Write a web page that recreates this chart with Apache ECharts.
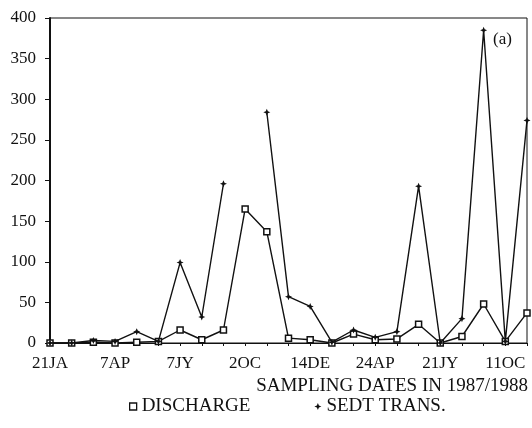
<!DOCTYPE html>
<html>
<head>
<meta charset="utf-8">
<script src="https://cdn.jsdelivr.net/npm/echarts@6/dist/echarts.min.js"></script>
<style>
  html, body { margin: 0; padding: 0; background: #fff; }
  #chart { width: 532px; height: 428px; }
</style>
</head>
<body>
<div id="chart"></div>
<script>
// sampling dates; only every third one is labelled on the axis
const categories = [
  '21JA', 'd1', 'd2', '7AP', 'd4', 'd5', '7JY', 'd7', 'd8', '2OC', 'd10', 'd11',
  '14DE', 'd13', 'd14', '24AP', 'd16', 'd17', '21JY', 'd19', 'd20', '11OC', 'd22'
];
const discharge = [0, 0, 1, 0, 1, 2, 16, 4, 16, 165, 137, 6, 4, 0, 11, 4, 5, 23, 0, 8, 48, 2, 37];
// null = no sample (line breaks there)
const sedtTrans = [0, 0, 3, 2, 14, 2, 99, 32, 196, null, 284, 57, 45, 1, 16, 7, 14, 193, 0, 30, 385, 2, 274];
const yTicks = { min: 0, max: 400, step: 50 };

const serif = '"Liberation Serif", "DejaVu Serif", serif';
const ink = '#111';
const star = 'path://M0,-10 L3,-3 L10,0 L3,3 L0,10 L-3,3 L-10,0 L-3,-3 Z';

const chart = echarts.init(document.getElementById('chart'));

chart.setOption({
  animation: false,
  backgroundColor: '#fff',
  textStyle: { fontFamily: serif, color: ink },
  grid: {
    left: 50, right: 5, top: 18, bottom: 85,
    show: true, borderColor: ink, borderWidth: 1
  },
  legend: {
    left: 124, top: 392,
    itemGap: 64, itemWidth: 7, itemHeight: 7,
    textStyle: { fontFamily: serif, fontSize: 19, color: ink },
    data: [
      { name: 'DISCHARGE', icon: 'rect', itemStyle: { color: '#fff', borderColor: ink, borderWidth: 1.3 } },
      { name: 'SEDT TRANS.', icon: star, itemStyle: { color: ink, borderWidth: 0 } }
    ]
  },
  xAxis: {
    type: 'category',
    data: categories,
    boundaryGap: false,
    axisLine: { lineStyle: { color: ink, width: 1.2 } },
    axisTick: { interval: 0, length: 3, lineStyle: { color: ink } },
    axisLabel: { interval: 2, fontFamily: serif, fontSize: 17, color: ink, margin: 12 },
    splitLine: { show: false }
  },
  yAxis: {
    type: 'value',
    min: yTicks.min, max: yTicks.max, interval: yTicks.step,
    axisLine: { show: true, lineStyle: { color: ink, width: 2 } },
    axisTick: { show: true, length: 5, lineStyle: { color: ink } },
    axisLabel: { fontFamily: serif, fontSize: 17, color: ink, margin: 14 },
    splitLine: { show: false }
  },
  graphic: [
    {
      type: 'text', right: 4, top: 377,
      style: { text: 'SAMPLING DATES IN 1987/1988', font: '19px ' + serif, fill: ink }
    },
    {
      type: 'text', left: 493, top: 31,
      style: { text: '(a)', font: '17px ' + serif, fill: ink }
    }
  ],
  series: [
    {
      name: 'DISCHARGE',
      type: 'line',
      data: discharge,
      symbol: 'rect',
      symbolSize: 6,
      itemStyle: { color: '#fff', borderColor: ink, borderWidth: 1.5 },
      lineStyle: { color: ink, width: 1.4 },
      z: 3
    },
    {
      name: 'SEDT TRANS.',
      type: 'line',
      data: sedtTrans,
      connectNulls: false,
      symbol: star,
      symbolSize: 7,
      itemStyle: { color: ink },
      lineStyle: { color: ink, width: 1.4 },
      z: 4
    }
  ]
});
</script>
</body>
</html>
